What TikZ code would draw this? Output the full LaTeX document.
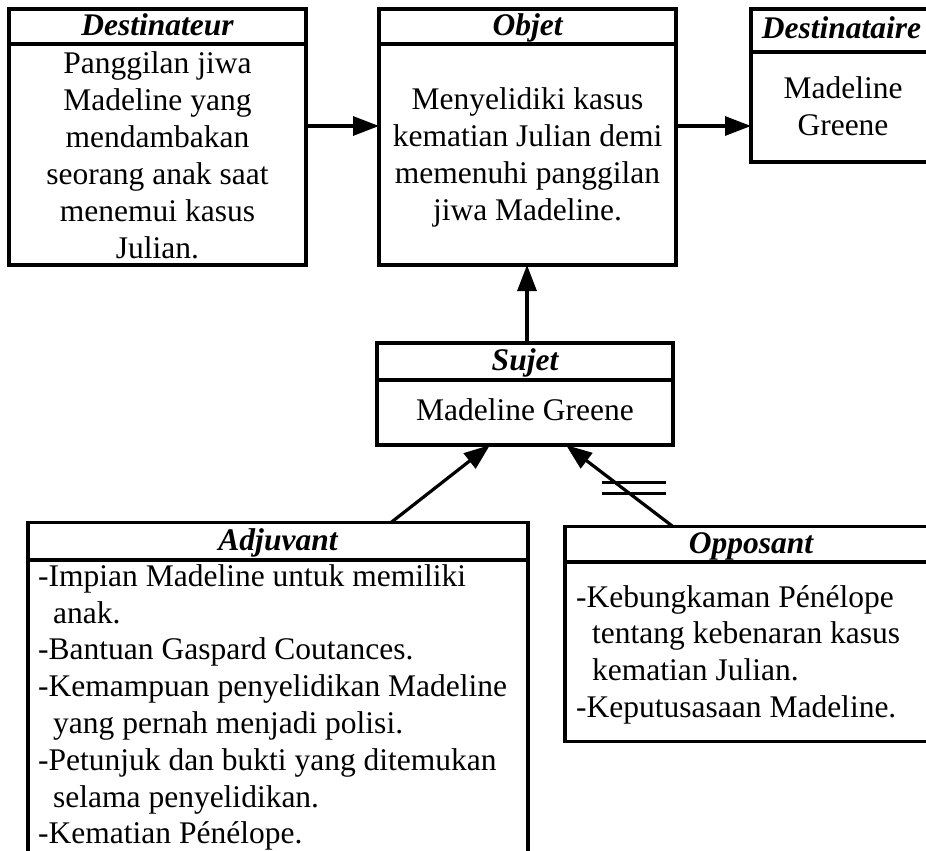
\documentclass[tikz,border=0pt]{standalone}
\usepackage{fontspec}
\setmainfont{Liberation Serif}
\usetikzlibrary{arrows.meta}
\begin{document}
\begin{tikzpicture}[x=1pt,y=-1pt,
  box/.style={draw, line width=3.2pt, inner sep=0pt, outer sep=0pt},
  hline/.style={line width=3.2pt},
  title/.style={font=\fontsize{31.5}{37}\selectfont\bfseries\itshape, inner sep=0pt, anchor=base},
  body/.style={font=\fontsize{31.5}{37}\selectfont, inner sep=0pt, align=center},
  lbody/.style={font=\fontsize{31.5}{36.8}\selectfont, inner sep=0pt, align=left, anchor=west},
  conn/.style={line width=3.2pt, -{Triangle[length=26pt,width=19pt]}},
  bar/.style={line width=2.4pt},
]
\useasboundingbox (0,0) rectangle (926,851);

% Destinateur
\node[box, minimum width=297pt, minimum height=256pt] (dest) at (157.5,137) {};
\draw[hline] (dest.west |- 0,44) -- (dest.east |- 0,44);
\node[title] (destT) at (157.5,36) {Destinateur};
\node[body] (destB) at (157.5,155) {Panggilan jiwa\\Madeline yang\\mendambakan\\seorang anak saat\\menemui kasus\\Julian.};

% Objet
\node[box, minimum width=297pt, minimum height=256pt] (obj) at (527.5,137) {};
\draw[hline] (obj.west |- 0,44) -- (obj.east |- 0,44);
\node[title] (objT) at (527.5,36) {Objet};
\node[body] (objB) at (527.5,157) {Menyelidiki kasus\\kematian Julian demi\\memenuhi panggilan\\jiwa Madeline.};

% Destinataire
\node[box, minimum width=184pt, minimum height=153pt] (destin) at (843,85.5) {};
\draw[hline] (destin.west |- 0,52) -- (destin.east |- 0,52);
\node[title] (destinT) at (841.5,39) {Destinataire};
\node[body] (destinB) at (843,106) {Madeline\\Greene};

% Sujet
\node[box, minimum width=296pt, minimum height=102pt] (suj) at (525,394) {};
\draw[hline] (suj.west |- 0,380) -- (suj.east |- 0,380);
\node[title] (sujT) at (525,370) {Sujet};
\node[body] (sujB) at (525,410) {Madeline Greene};

% Adjuvant
\node[box, minimum width=500pt, minimum height=377.5pt] (adj) at (278,711.25) {};
\draw[hline] (adj.west |- 0,560) -- (adj.east |- 0,560);
\node[title] (adjT) at (278,550) {Adjuvant};
\node[lbody] (adjB) at (38,707.5) {-Impian Madeline untuk memiliki\\\hspace*{15pt}anak.\\-Bantuan Gaspard Coutances.\\-Kemampuan penyelidikan Madeline\\\hspace*{15pt}yang pernah menjadi polisi.\\-Petunjuk dan bukti yang ditemukan\\\hspace*{15pt}selama penyelidikan.\\-Kematian Pénélope.};

% Opposant
\node[box, minimum width=372pt, minimum height=215pt] (opp) at (751,634.1) {};
\draw[hline] (opp.west |- 0,562) -- (opp.east |- 0,562);
\node[title] (oppT) at (751,553) {Opposant};
\node[lbody] (oppB) at (576,654.7) {-Kebungkaman Pénélope\\\hspace*{16pt}tentang kebenaran kasus\\\hspace*{16pt}kematian Julian.\\-Keputusasaan Madeline.};

% connectors
\draw[conn] ([yshift=11pt]dest.east) -- ([yshift=11pt]dest.east -| obj.west);
\draw[conn] ([yshift=11pt]obj.east) -- ([yshift=11pt]obj.east -| destin.west);
\draw[conn] ([xshift=2pt]suj.north) -- ([xshift=2pt]suj.north |- obj.south);
\draw[conn] ([xshift=113pt]adj.north) -- ([xshift=-35pt]suj.south);
\draw[conn] ([xshift=-78pt]opp.north) -- ([xshift=41pt]suj.south);

% double bar
\draw[bar] (602,482.3) -- (666,482.3);
\draw[bar] (602,493.5) -- (666,493.5);
\end{tikzpicture}
\end{document}
